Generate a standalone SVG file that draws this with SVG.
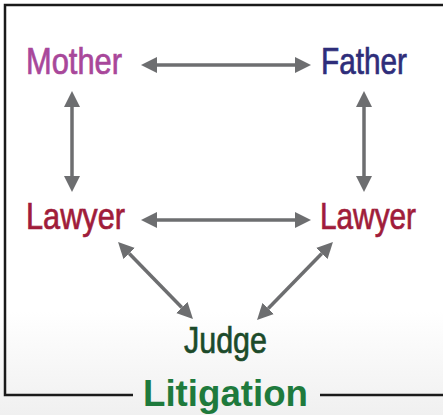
<svg xmlns="http://www.w3.org/2000/svg" width="443" height="415" viewBox="0 0 443 415">
  <defs>
    <linearGradient id="bg" x1="0" y1="0" x2="0" y2="1">
      <stop offset="0" stop-color="#ffffff"/>
      <stop offset="0.75" stop-color="#ffffff"/>
      <stop offset="1" stop-color="#f0f0f0"/>
    </linearGradient>
    <marker id="ah" markerUnits="userSpaceOnUse" markerWidth="16" markerHeight="16" refX="0" refY="8" orient="auto-start-reverse" viewBox="0 0 16 16">
      <path d="M0,0 L16,8 L0,16 z" fill="#6d6e70"/>
    </marker>
    <style>
      .lbl { font-family: "Liberation Sans Narrow", "Liberation Sans", Arial, sans-serif; font-size: 36px; stroke-width: 0.7px; }
      .conn line { stroke: #6d6e70; stroke-width: 3.5; marker-start: url(#ah); marker-end: url(#ah); }
      .frame { fill: none; stroke: #1a1a1a; stroke-width: 2.5; }
    </style>
  </defs>
  <rect x="0" y="0" width="443" height="415" fill="url(#bg)"/>
  <g id="frame">
    <path class="frame" d="M133,395 L5,395 L5,5 L443,5"/>
    <path class="frame" d="M320,395 L443,395"/>
  </g>
  <g class="conn" id="connectors">
    <line x1="157" y1="65" x2="295" y2="65"/>
    <line x1="157" y1="220" x2="295" y2="220"/>
    <line x1="72" y1="107" x2="72" y2="176"/>
    <line x1="364" y1="107" x2="364" y2="176"/>
    <line x1="129.2" y1="253.5" x2="181.8" y2="307.5"/>
    <line x1="321.8" y1="253.5" x2="268.2" y2="308.5"/>
  </g>
  <g id="mother"><text class="lbl" x="26" y="74" fill="#a8479a" stroke="#a8479a" textLength="96" lengthAdjust="spacingAndGlyphs">Mother</text></g>
  <g id="father"><text class="lbl" x="321" y="74" fill="#2e2d7a" stroke="#2e2d7a" textLength="86" lengthAdjust="spacingAndGlyphs">Father</text></g>
  <g id="lawyer-left"><text class="lbl" x="26" y="229" fill="#a01c3a" stroke="#a01c3a" textLength="99" lengthAdjust="spacingAndGlyphs">Lawyer</text></g>
  <g id="lawyer-right"><text class="lbl" x="320" y="229" fill="#a01c3a" stroke="#a01c3a" textLength="96" lengthAdjust="spacingAndGlyphs">Lawyer</text></g>
  <g id="judge"><text class="lbl" x="184" y="353" fill="#1c4a2a" stroke="#1c4a2a" textLength="83" lengthAdjust="spacingAndGlyphs">Judge</text></g>
  <g id="litigation"><text x="143" y="406" fill="#1e7a3c" font-family="'Liberation Sans', Arial, sans-serif" font-size="36" font-weight="bold" textLength="165" lengthAdjust="spacingAndGlyphs">Litigation</text></g>
</svg>
